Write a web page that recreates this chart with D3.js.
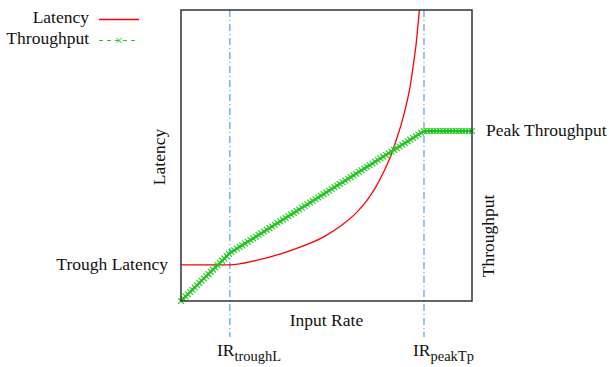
<!DOCTYPE html>
<html>
<head>
<meta charset="utf-8">
<script src="https://cdn.jsdelivr.net/npm/d3@7/dist/d3.min.js"></script>
<style>
  html, body { margin: 0; padding: 0; background: #fff; }
  svg { display: block; }
  text { font-family: "Liberation Serif", "Times New Roman", serif; fill: #111; }
</style>
</head>
<body>
<svg id="chart" width="609" height="367"></svg>
<script>
// ---- data (arbitrary units, 0..100 on each axis) ----
const latencyX = [0, 16.8, 26.5, 38.1, 49.5, 55.3, 60.8, 64.3, 66.7, 69.8, 72.2, 74.2, 76.0, 77.3, 78.7, 79.7, 80.8, 81.9];
const latencyY = [12.4, 12.4, 14.1, 17.5, 22.3, 26.1, 30.9, 35.1, 38.8, 44.7, 50.2, 56.0, 61.9, 67.0, 73.5, 80.1, 88.3, 100];
const throughputX = [0, 16.8, 83.5, 100];
const throughputY = [0, 16.5, 58.4, 58.4];
const irTroughL = 16.8;
const irPeakTp = 83.5;
const troughLatency = 12.4;
const peakThroughput = 58.4;
const seriesNames = ["Latency", "Throughput"];

const svg = d3.select("#chart");
const L = 181, R = 472, T = 10, B = 301;
const x = d3.scaleLinear().domain([0, 100]).range([L, R]);
const yLat = d3.scaleLinear().domain([0, 100]).range([B, T]);
const yTp = d3.scaleLinear().domain([0, 100]).range([B, T]);

svg.append("defs").append("clipPath").attr("id", "clip")
  .append("rect").attr("x", L).attr("y", T).attr("width", R - L).attr("height", B - T);

// IR dash-dot lines
[irTroughL, irPeakTp].forEach(v => {
  svg.append("line")
    .attr("x1", x(v)).attr("x2", x(v))
    .attr("y1", T).attr("y2", 337)
    .attr("stroke", "#2a8cf0").attr("stroke-width", 1)
    .attr("stroke-dasharray", "7,3,1,3");
});

// latency
const latData = latencyX.map((d, i) => [d, latencyY[i]]);
svg.append("path").datum(latData)
  .attr("clip-path", "url(#clip)")
  .attr("fill", "none").attr("stroke", "#ff0000").attr("stroke-width", 1.3)
  .attr("d", d3.line().x(d => x(d[0])).y(d => yLat(d[1])).curve(d3.curveMonotoneX));

// throughput
const tpData = throughputX.map((d, i) => [d, throughputY[i]]);
const tpPath = svg.append("path").datum(tpData)
  .attr("fill", "none").attr("stroke", "#00b000").attr("stroke-width", 2.2)
  .attr("d", d3.line().x(d => x(d[0])).y(d => yTp(d[1])));

// cross markers along the throughput line (line style)
const node = tpPath.node();
const total = node.getTotalLength();
const ms = 2.9;
const mk = svg.append("g").attr("stroke", "#20c820").attr("stroke-width", 1.1);
for (let s = 0; s <= total + 0.01; s += 3.2) {
  const p = node.getPointAtLength(Math.min(s, total));
  mk.append("path").attr("d", `M${p.x - ms},${p.y - ms}L${p.x + ms},${p.y + ms}M${p.x - ms},${p.y + ms}L${p.x + ms},${p.y - ms}`);
}

// frame
svg.append("rect").attr("x", L).attr("y", T).attr("width", R - L).attr("height", B - T)
  .attr("fill", "none").attr("stroke", "#333").attr("stroke-width", 1.5);

// labels
const fs = "17.5px";
svg.append("text").attr("x", 168).attr("y", yLat(troughLatency) + 5).attr("text-anchor", "end")
  .style("font-size", fs).text("Trough Latency");
svg.append("text").attr("x", 486).attr("y", yTp(peakThroughput) + 5)
  .style("font-size", fs).text("Peak Throughput");
svg.append("text").attr("transform", "translate(165,157) rotate(-90)").attr("text-anchor", "middle")
  .style("font-size", fs).text("Latency");
svg.append("text").attr("transform", "translate(494,236) rotate(-90)").attr("text-anchor", "middle")
  .style("font-size", fs).text("Throughput");
svg.append("text").attr("x", (L + R) / 2).attr("y", 326).attr("text-anchor", "middle")
  .style("font-size", fs).text("Input Rate");

function irLabel(xpos, sub) {
  const t = svg.append("text").attr("x", xpos).attr("y", 356).style("font-size", fs);
  t.append("tspan").text("IR");
  t.append("tspan").attr("dy", 4.5).style("font-size", "14.5px").text(sub);
}
irLabel(x(irTroughL) - 13, "troughL");
irLabel(x(irPeakTp) - 11, "peakTp");

// legend
svg.append("text").attr("x", 89).attr("y", 23).attr("text-anchor", "end").style("font-size", fs).text(seriesNames[0]);
svg.append("text").attr("x", 89).attr("y", 44).attr("text-anchor", "end").style("font-size", fs).text(seriesNames[1]);
svg.append("line").attr("x1", 99).attr("x2", 139).attr("y1", 19.5).attr("y2", 19.5)
  .attr("stroke", "#ff0000").attr("stroke-width", 1.3);
svg.append("line").attr("x1", 99).attr("x2", 139).attr("y1", 40.5).attr("y2", 40.5)
  .attr("stroke", "#22cc22").attr("stroke-width", 1).attr("stroke-dasharray", "4,4");
svg.append("path").attr("d", `M${119 - 2.5},${40.5 - 2.5}L${119 + 2.5},${40.5 + 2.5}M${119 - 2.5},${40.5 + 2.5}L${119 + 2.5},${40.5 - 2.5}`)
  .attr("stroke", "#22cc22").attr("stroke-width", 1);
</script>
</body>
</html>
